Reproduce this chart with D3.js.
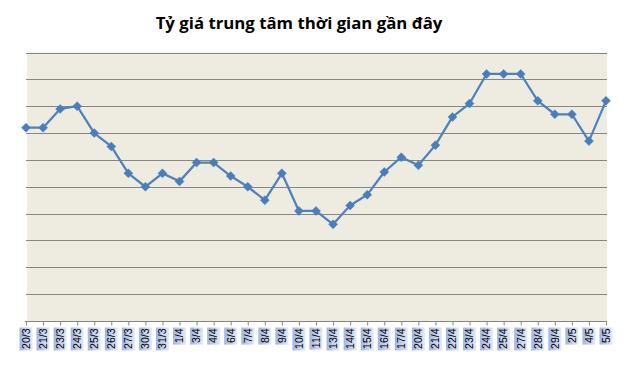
<!DOCTYPE html>
<html>
<head>
<meta charset="utf-8">
<script src="https://cdn.jsdelivr.net/npm/d3@7"></script>
<style>
  body { margin: 0; background: #fff; }
  svg { display: block; }
</style>
</head>
<body>
<div id="chart"></div>
<script>
var title = "Tỷ giá trung tâm thời gian gần đây";

var dates = ["20/3","21/3","23/3","24/3","25/3","26/3","27/3","30/3","31/3",
  "1/4","3/4","4/4","6/4","7/4","8/4","9/4","10/4","11/4","13/4","14/4","15/4",
  "16/4","17/4","20/4","21/4","22/4","23/4","24/4","25/4","27/4","28/4","29/4",
  "2/5","4/5","5/5"];

// values read in gridline units (no y labels shown on the original)
var rates = [7.2, 7.2, 7.9, 8.0, 7.0, 6.5, 5.5, 5.0, 5.5,
  5.2, 5.9, 5.9, 5.4, 5.0, 4.5, 5.5, 4.1, 4.1, 3.6, 4.3, 4.7,
  5.55, 6.1, 5.8, 6.55, 7.6, 8.1, 9.2, 9.2, 9.2, 8.2, 7.7,
  7.7, 6.7, 8.2];

var yTicks = [0,1,2,3,4,5,6,7,8,9,10];

var width = 623, height = 373;
var pLeft = 26, pRight = 606, pTop = 52.5, pBottom = 321;

var svg = d3.select('#chart').append('svg')
  .attr('width', width).attr('height', height);

var defs = svg.append('defs');
var grad = defs.append('linearGradient').attr('id', 'lbl')
  .attr('x1', '0%').attr('x2', '100%').attr('y1', '0%').attr('y2', '0%');
grad.append('stop').attr('offset', '0%').attr('stop-color', '#9fb6e2');
grad.append('stop').attr('offset', '100%').attr('stop-color', '#e4eaf6');

var x = d3.scalePoint().domain(dates).range([pLeft, pRight]);
var y = d3.scaleLinear().domain([0, 10]).range([pBottom, pTop]);

// plot area
svg.append('rect')
  .attr('x', pLeft + 1).attr('y', pTop)
  .attr('width', pRight - pLeft).attr('height', pBottom - pTop)
  .attr('fill', '#eeece1');

// gridlines
svg.append('g').selectAll('line')
  .data(yTicks.slice(1)).join('line')
    .attr('x1', pLeft).attr('x2', pRight + 1)
    .attr('y1', d => Math.round(y(d)) + 0.5)
    .attr('y2', d => Math.round(y(d)) + 0.5)
    .attr('stroke', '#868686').attr('stroke-width', 1);

// x axis
var xAxis = svg.append('g')
  .attr('transform', 'translate(0,' + (Math.round(pBottom) + 0.5) + ')')
  .call(d3.axisBottom(x).tickSize(4).tickSizeOuter(0).tickFormat(''));
xAxis.select('.domain').attr('stroke', '#868686').attr('d', 'M' + (pLeft - 1) + ',0H' + (pRight + 1));
xAxis.selectAll('.tick line').attr('stroke', '#868686');

// category labels in little boxes
var lbl = svg.append('g').selectAll('g')
  .data(dates).join('g')
    .attr('transform', d => 'translate(' + x(d) + ',327.5)');

var rects = lbl.append('rect')
  .attr('x', -6.5).attr('y', 0).attr('width', 13)
  .attr('fill', 'url(#lbl)');

var txt = lbl.append('text')
  .attr('transform', 'translate(3.8,1) rotate(-90)')
  .attr('text-anchor', 'end')
  .attr('font-family', 'Liberation Sans, Arial, sans-serif')
  .attr('font-size', 10.5)
  .attr('fill', '#000')
  .text(d => d);

txt.each(function(d, i) {
  var len = this.getComputedTextLength();
  d3.select(rects.nodes()[i]).attr('height', len + 2.5);
});

// line
var line = d3.line().x((d, i) => x(dates[i])).y(d => y(d));

svg.append('path')
  .datum(rates)
  .attr('d', line)
  .attr('fill', 'none')
  .attr('stroke', '#4f81bd')
  .attr('stroke-width', 2.25)
  .attr('stroke-linejoin', 'round');

// diamond markers
svg.append('g').selectAll('path')
  .data(rates).join('path')
    .attr('d', 'M0,-4.5L4.5,0L0,4.5L-4.5,0Z')
    .attr('transform', (d, i) => 'translate(' + x(dates[i]) + ',' + y(d) + ')')
    .attr('fill', '#4a7ebb')
    .attr('stroke', '#4a7ebb')
    .attr('stroke-width', 0.5);

// title
svg.append('text')
  .attr('x', 299).attr('y', 29)
  .attr('text-anchor', 'middle')
  .attr('font-family', 'Open Sans, sans-serif')
  .attr('font-weight', 'bold')
  .attr('font-size', 16.8)
  .attr('fill', '#000')
  .text(title);
</script>
</body>
</html>
